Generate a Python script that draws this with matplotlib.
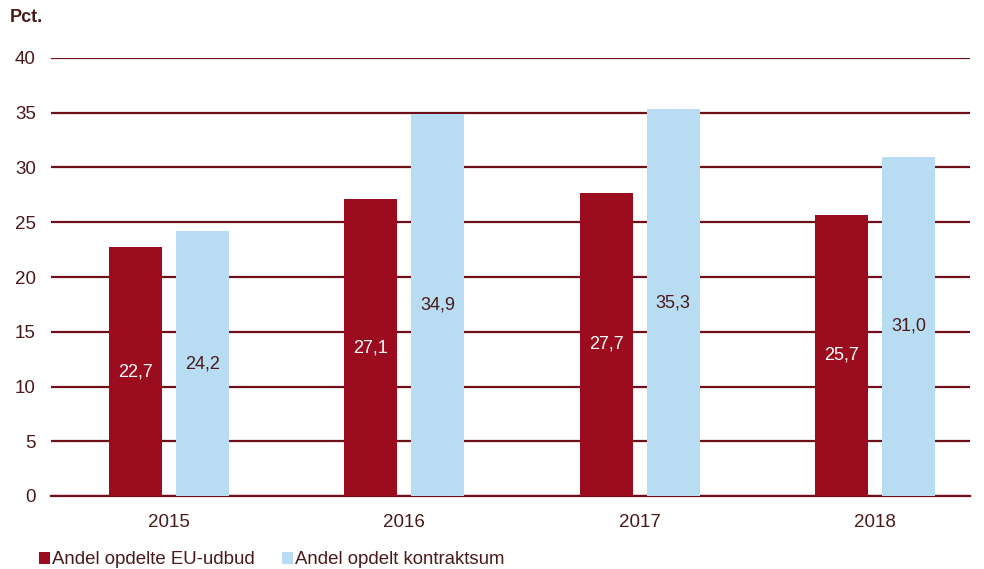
import matplotlib
matplotlib.use("Agg")
import matplotlib.pyplot as plt
import numpy as np

plt.rcParams['font.family'] = ['Liberation Sans', 'DejaVu Sans']

years = ['2015', '2016', '2017', '2018']
eu_udbud = [22.7, 27.1, 27.7, 25.7]
kontraktsum = [24.2, 34.9, 35.3, 31.0]
labels = ['Andel opdelte EU-udbud', 'Andel opdelt kontraktsum']

red = '#9b0c1f'
blue = '#b8ddf2'
txt = '#4a1a1a'
grid = '#6e0f1a'

fig = plt.figure(figsize=(9.84, 5.69), dpi=100)
ax = fig.add_axes([51 / 984, 1 - 496 / 569, (970 - 51) / 984, (496 - 58) / 569])

x = np.arange(len(years))
w = 0.225
off = 0.142
b1 = ax.bar(x - off, eu_udbud, w, color=red, zorder=3, label=labels[0])
b2 = ax.bar(x + off, kontraktsum, w, color=blue, zorder=3, label=labels[1])

for rect, v in zip(b1, eu_udbud):
    ax.text(rect.get_x() + rect.get_width() / 2, v / 2, f'{v:.1f}'.replace('.', ','),
            ha='center', va='center', color='white', fontsize=13, zorder=4)
for rect, v in zip(b2, kontraktsum):
    ax.text(rect.get_x() + rect.get_width() / 2, v / 2, f'{v:.1f}'.replace('.', ','),
            ha='center', va='center', color=txt, fontsize=13, zorder=4)

ax.set_ylim(0, 40)
ax.set_yticks(range(0, 41, 5))
ax.set_xlim(-0.5, 3.5 - 23 / 235.5)
ax.set_xticks(x)
ax.set_xticklabels(years)
ax.yaxis.grid(True, color=grid, linewidth=1.6, zorder=0)
ax.set_axisbelow(True)
for s in ['top', 'right', 'left']:
    ax.spines[s].set_visible(False)
ax.spines['bottom'].set_color(grid)
ax.spines['bottom'].set_linewidth(1.6)
ax.tick_params(length=0, labelsize=13.5, colors=txt)
ax.tick_params(axis='x', pad=13)
ax.tick_params(axis='y', pad=11)

fig.text(10 / 984, 1 - 18 / 569, 'Pct.', fontsize=13, fontweight='bold', color=txt, va='center')

fig.legend(loc='lower left', bbox_to_anchor=(22 / 984, -0.028), ncol=2, frameon=False,
           fontsize=13.4, handlelength=0.6, handleheight=0.6, handletextpad=0.12,
           columnspacing=1.45, labelcolor=txt)

fig.savefig('out.png', dpi=100)
